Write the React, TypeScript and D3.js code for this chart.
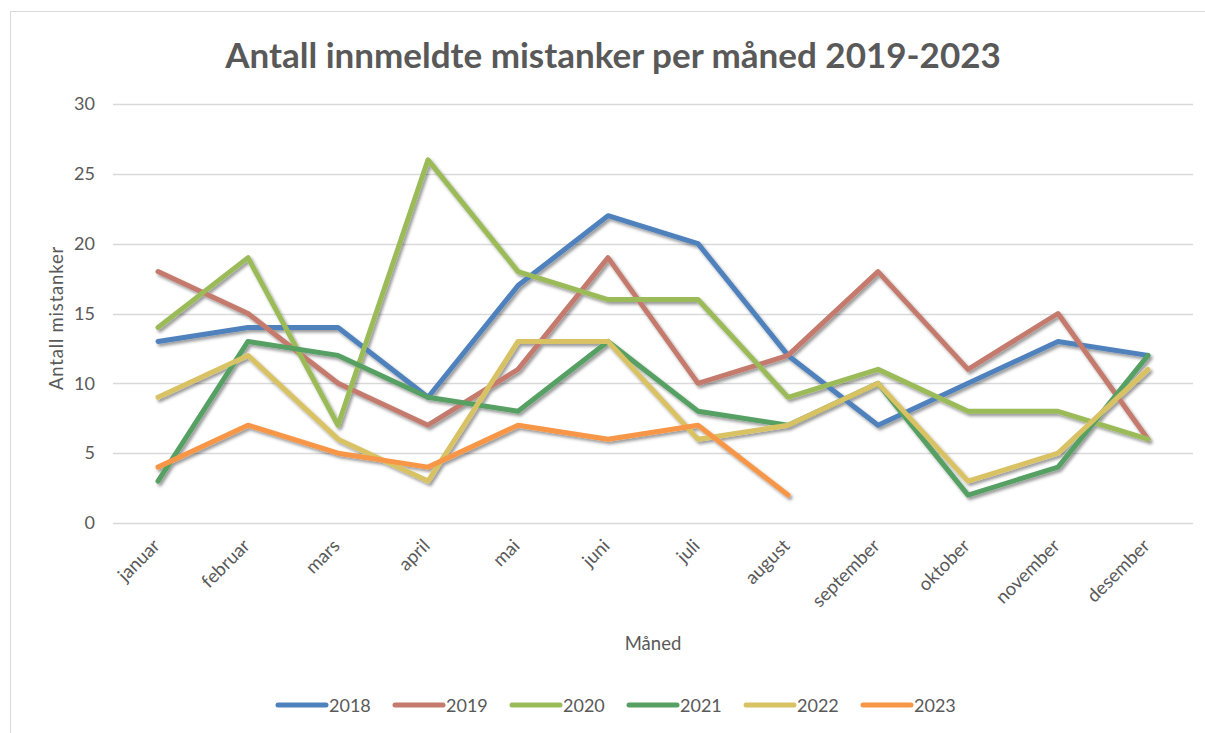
import { useEffect, useRef } from "react";
import * as d3 from "d3";

const months = ["januar", "februar", "mars", "april", "mai", "juni", "juli", "august", "september", "oktober", "november", "desember"];
const years = ["2018", "2019", "2020", "2021", "2022", "2023"];
const v2018 = [13, 14, 14, 9, 17, 22, 20, 12, 7, 10, 13, 12];
const v2019 = [18, 15, 10, 7, 11, 19, 10, 12, 18, 11, 15, 6];
const v2020 = [14, 19, 7, 26, 18, 16, 16, 9, 11, 8, 8, 6];
const v2021 = [3, 13, 12, 9, 8, 13, 8, 7, 10, 2, 4, 12];
const v2022 = [9, 12, 6, 3, 13, 13, 6, 7, 10, 3, 5, 11];
const v2023 = [4, 7, 5, 4, 7, 6, 7, 2];
const yTicks = [0, 5, 10, 15, 20, 25, 30];
const colors = ["#4F81BD", "#C47A6D", "#9BBB59", "#57A064", "#D9C264", "#F79646"];

const W = 1205;
const H = 733;
const FONT = "Lato, 'Open Sans', sans-serif";

export default function App() {
    const svgRef = useRef<SVGSVGElement>(null);

    useEffect(() => {
        const svg = d3.select(svgRef.current);
        svg.selectAll("*").remove();

        const series = [v2018, v2019, v2020, v2021, v2022, v2023];

        const x = d3.scaleBand().domain(months).range([113, 1193]);
        const y = d3.scaleLinear().domain([0, 30]).range([523, 104]);
        const cx = (m: string) => (x(m) as number) + x.bandwidth() / 2;

        const defs = svg.append("defs");
        const f = defs.append("filter").attr("id", "shadow")
            .attr("x", "-10%").attr("y", "-10%").attr("width", "120%").attr("height", "120%");
        f.append("feDropShadow").attr("dx", 2).attr("dy", 2.5).attr("stdDeviation", 1.8)
            .attr("flood-color", "#000").attr("flood-opacity", 0.4);

        // frame
        svg.append("rect").attr("x", 10.5).attr("y", 11.5).attr("width", 1210).attr("height", 740)
            .attr("fill", "#fff").attr("stroke", "#D9D9D9");

        // title
        svg.append("text").attr("x", 613).attr("y", 68).attr("text-anchor", "middle")
            .attr("font-family", FONT).attr("font-weight", "bold").attr("font-size", 35)
            .attr("fill", "#595959").text("Antall innmeldte mistanker per måned 2019-2023");

        // grid
        svg.append("g").selectAll("line").data(yTicks).join("line")
            .attr("x1", 113).attr("x2", 1193)
            .attr("y1", (d) => Math.round(y(d)) + 0.5).attr("y2", (d) => Math.round(y(d)) + 0.5)
            .attr("stroke", "#D9D9D9").attr("stroke-width", 1.3);

        const yAxis = d3.axisLeft(y).tickValues(yTicks).tickSize(0).tickPadding(18);
        const ya = svg.append("g").attr("transform", "translate(113,0)").call(yAxis);
        ya.select(".domain").remove();
        ya.selectAll("text").attr("font-family", FONT).attr("font-size", 18).attr("fill", "#595959");

        // x labels
        svg.append("g").selectAll("text").data(months).join("text")
            .attr("transform", (d) => `translate(${cx(d) + 3},${547}) rotate(-45)`)
            .attr("text-anchor", "end").attr("font-family", FONT).attr("font-size", 18.5)
            .attr("fill", "#595959").text((d) => d);

        svg.append("text").attr("x", 653).attr("y", 650).attr("text-anchor", "middle")
            .attr("font-family", FONT).attr("font-size", 18.5).attr("fill", "#595959").text("Måned");

        svg.append("text").attr("transform", "translate(63,318) rotate(-90)").attr("text-anchor", "middle")
            .attr("font-family", FONT).attr("font-size", 18.5).attr("letter-spacing", 0.8)
            .attr("fill", "#595959").text("Antall mistanker");

        const line = d3.line<number>().x((d, i) => cx(months[i])).y((d) => y(d));

        svg.append("g").attr("filter", "url(#shadow)").selectAll("path").data(series).join("path")
            .attr("d", (d) => line(d))
            .attr("fill", "none")
            .attr("stroke", (d, i) => colors[i])
            .attr("stroke-width", 5)
            .attr("stroke-linecap", "round")
            .attr("stroke-linejoin", "round");

        // legend
        const lg = svg.append("g").selectAll("g").data(years).join("g")
            .attr("transform", (d, i) => `translate(${278 + i * 117},705)`);
        lg.append("line").attr("x1", 0).attr("x2", 48).attr("y1", 0).attr("y2", 0)
            .attr("stroke", (d, i) => colors[i]).attr("stroke-width", 5).attr("stroke-linecap", "round");
        lg.append("text").attr("x", 51).attr("y", 6.5).attr("font-family", FONT).attr("font-size", 18)
            .attr("fill", "#595959").text((d) => d);
    }, []);

    return (
        <svg ref={svgRef} width={W} height={H}
            style={{ position: "absolute", top: 0, left: 0, display: "block", background: "#fff" }} />
    );
}
